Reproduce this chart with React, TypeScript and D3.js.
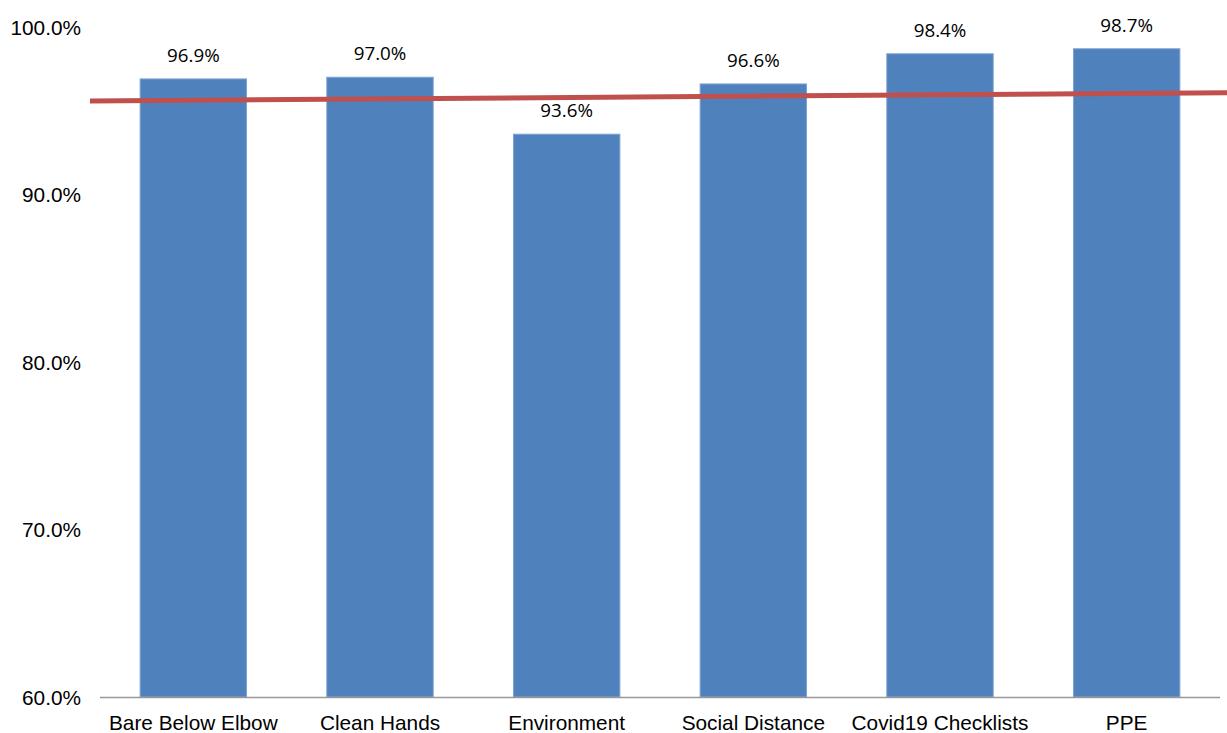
import React from "react";
import * as d3 from "d3";

const categories = ["Bare Below Elbow", "Clean Hands", "Environment", "Social Distance", "Covid19 Checklists", "PPE"];
const values = [96.9, 97.0, 93.6, 96.6, 98.4, 98.7];
const yTicks = [60, 70, 80, 90, 100];
const targetLine = [95.58, 96.08];

const W = 1227;
const H = 733;
const left = 100;
const right = 1220;
const top = 27;
const bottom = 697;

export default function App() {
  const x = d3.scaleBand<string>().domain(categories).range([left, right]).paddingInner(0.43).paddingOuter(0.215);
  const y = d3.scaleLinear().domain([60, 100]).range([bottom, top]);
  const fmt = (v: number) => v.toFixed(1) + "%";
  const lineGen = d3.line<[number, number]>().x(d => d[0]).y(d => y(d[1]));
  const linePts: [number, number][] = [[left - 10, targetLine[0]], [W, targetLine[1]]];
  return (
    <svg width={W} height={H} style={{ position: "absolute", left: 0, top: 0 }}>
      <rect width={W} height={H} fill="#fff" />
      {yTicks.map(t => (
        <text key={t} x={81} y={y(t)} textAnchor="end" dominantBaseline="central"
          fontFamily="Liberation Sans, Arial, sans-serif" fontSize={20.8} fill="#000">{fmt(t)}</text>
      ))}
      {categories.map((c, i) => (
        <g key={c}>
          <rect x={x(c)!} y={y(values[i])} width={x.bandwidth()} height={bottom - y(values[i])}
            fill="#4F81BD" stroke="#7EA3D2" strokeWidth={1} />
          <text x={x(c)! + x.bandwidth() / 2} y={y(values[i]) - 24} textAnchor="middle" dominantBaseline="central"
            fontFamily="Open Sans, sans-serif" fontSize={18.8} fill="#000">{fmt(values[i])}</text>
          <text x={x(c)! + x.bandwidth() / 2} y={722} textAnchor="middle" dominantBaseline="central"
            fontFamily="Liberation Sans, Arial, sans-serif" fontSize={20.8} fill="#000">{c}</text>
        </g>
      ))}
      <line x1={left} x2={right} y1={bottom + 0.5} y2={bottom + 0.5} stroke="#999" strokeWidth={1.5} />
      <path d={lineGen(linePts) || ""} stroke="#C0504D" strokeWidth={5} fill="none" />
    </svg>
  );
}
